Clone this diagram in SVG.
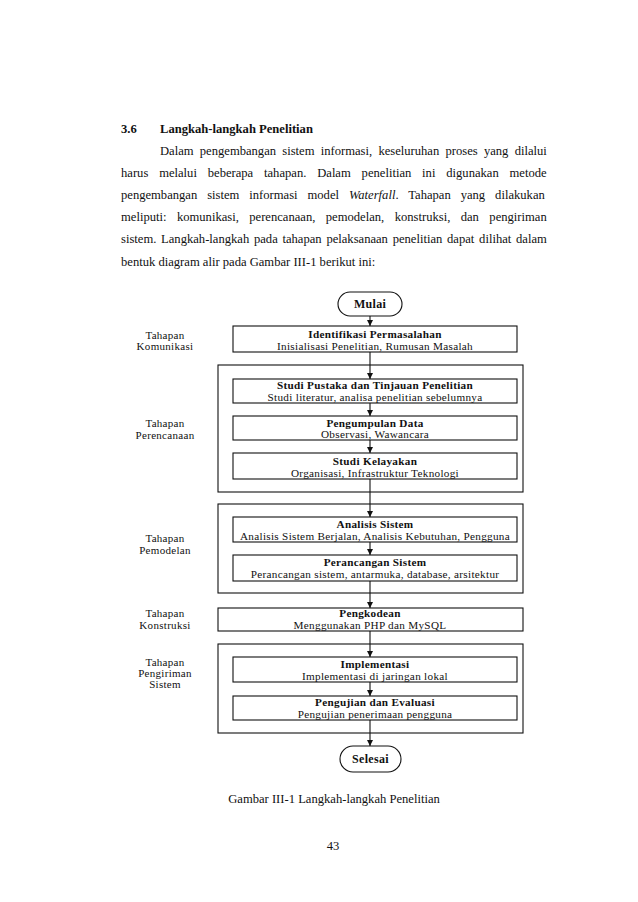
<svg xmlns="http://www.w3.org/2000/svg" width="638" height="902" viewBox="0 0 638 902">
<style>
.body{font-family:"Liberation Serif","Times New Roman",serif;font-size:12.6px;fill:#111}
.hd{font-family:"Liberation Serif","Times New Roman",serif;font-size:12.6px;font-weight:bold;fill:#111}
.box{fill:#fff;stroke:#111;stroke-width:1.1}
.grp{fill:none;stroke:#111;stroke-width:1.1}
.t{font-family:"Liberation Serif","Times New Roman",serif;font-size:11.2px;font-weight:bold;text-anchor:middle;letter-spacing:0.3px;fill:#111}
.s{font-family:"Liberation Serif","Times New Roman",serif;font-size:11.2px;text-anchor:middle;letter-spacing:0.3px;fill:#111}
.lab{font-family:"Liberation Serif","Times New Roman",serif;font-size:11px;text-anchor:middle;letter-spacing:0.3px;fill:#111}
.term{font-family:"Liberation Serif","Times New Roman",serif;font-size:12px;font-weight:bold;text-anchor:middle;letter-spacing:0.3px;fill:#111}
.con{stroke:#111;stroke-width:1.1;fill:none}
</style>
<defs>
<marker id="ah" viewBox="0 0 8 8" refX="8" refY="4" markerWidth="6" markerHeight="6" orient="auto" markerUnits="userSpaceOnUse"><path d="M0,0 L8,4 L0,8 z" fill="#111"/></marker>
</defs>
<rect width="638" height="902" fill="#fff"/>

<g id="page-text">
<text class="hd" x="121" y="133">3.6</text>
<text class="hd" x="160" y="133">Langkah-langkah Penelitian</text>
<text class="body" x="160" y="155" word-spacing="3.1">Dalam pengembangan sistem informasi, keseluruhan proses yang dilalui</text>
<text class="body" x="121" y="177" word-spacing="7.7">harus melalui beberapa tahapan. Dalam penelitian ini digunakan metode</text>
<text class="body" x="121" y="199" word-spacing="6.8">pengembangan sistem informasi model <tspan font-style="italic">Waterfall</tspan>. Tahapan yang dilakukan</text>
<text class="body" x="121" y="221" word-spacing="7.3">meliputi: komunikasi, perencanaan, pemodelan, konstruksi, dan pengiriman</text>
<text class="body" x="121" y="243" word-spacing="1.6">sistem. Langkah-langkah pada tahapan pelaksanaan penelitian dapat dilihat dalam</text>
<text class="body" x="121" y="266">bentuk diagram alir pada Gambar III-1 berikut ini:</text>
<text class="body" x="334" y="803" text-anchor="middle">Gambar III-1 Langkah-langkah Penelitian</text>
<text class="body" x="333" y="850" text-anchor="middle">43</text>
</g>

<g id="phase-labels">
<text class="lab" x="165" y="338.5">Tahapan</text>
<text class="lab" x="165" y="350">Komunikasi</text>
<text class="lab" x="165" y="427">Tahapan</text>
<text class="lab" x="165" y="438.5">Perencanaan</text>
<text class="lab" x="165" y="542">Tahapan</text>
<text class="lab" x="165" y="553.5">Pemodelan</text>
<text class="lab" x="165" y="617">Tahapan</text>
<text class="lab" x="165" y="628.5">Konstruksi</text>
<text class="lab" x="165" y="665.5">Tahapan</text>
<text class="lab" x="165" y="676.5">Pengiriman</text>
<text class="lab" x="165" y="687.5">Sistem</text>
</g>

<g id="groups">
<rect id="grp-perencanaan" class="grp" x="218" y="365" width="305" height="127"/>
<rect id="grp-pemodelan" class="grp" x="218" y="504" width="305" height="89"/>
<rect id="grp-pengiriman" class="grp" x="218" y="644" width="305" height="89"/>
</g>

<g id="connectors">
<line class="con" x1="370" y1="316" x2="370" y2="326" marker-end="url(#ah)"/>
<line class="con" x1="370" y1="352" x2="370" y2="379" marker-end="url(#ah)"/>
<line class="con" x1="370" y1="403" x2="370" y2="416" marker-end="url(#ah)"/>
<line class="con" x1="370" y1="440" x2="370" y2="453" marker-end="url(#ah)"/>
<line class="con" x1="370" y1="479" x2="370" y2="517" marker-end="url(#ah)"/>
<line class="con" x1="370" y1="542" x2="370" y2="555" marker-end="url(#ah)"/>
<line class="con" x1="370" y1="581" x2="370" y2="608" marker-end="url(#ah)"/>
<line class="con" x1="370" y1="631" x2="370" y2="657" marker-end="url(#ah)"/>
<line class="con" x1="370" y1="682" x2="370" y2="696" marker-end="url(#ah)"/>
<line class="con" x1="370" y1="720" x2="370" y2="746" marker-end="url(#ah)"/>
</g>

<g id="mulai">
<rect class="box" x="338" y="292" width="64" height="24" rx="12"/>
<text class="term" x="370" y="308">Mulai</text>
</g>
<g id="identifikasi">
<rect class="box" x="233" y="326" width="284" height="26"/>
<text class="t" x="375" y="337.5">Identifikasi Permasalahan</text>
<text class="s" x="375" y="349.5">Inisialisasi Penelitian, Rumusan Masalah</text>
</g>
<g id="studi-pustaka">
<rect class="box" x="233" y="379" width="284" height="24"/>
<text class="t" x="375" y="388.5">Studi Pustaka dan Tinjauan Penelitian</text>
<text class="s" x="375" y="400.5">Studi literatur, analisa penelitian sebelumnya</text>
</g>
<g id="pengumpulan">
<rect class="box" x="233" y="416" width="284" height="24"/>
<text class="t" x="375" y="426.5">Pengumpulan Data</text>
<text class="s" x="375" y="438">Observasi, Wawancara</text>
</g>
<g id="kelayakan">
<rect class="box" x="233" y="453" width="284" height="26"/>
<text class="t" x="375" y="464.5">Studi Kelayakan</text>
<text class="s" x="375" y="476.5">Organisasi, Infrastruktur Teknologi</text>
</g>
<g id="analisis">
<rect class="box" x="233" y="517" width="284" height="25"/>
<text class="t" x="375" y="528">Analisis Sistem</text>
<text class="s" x="375" y="539.5">Analisis Sistem Berjalan, Analisis Kebutuhan, Pengguna</text>
</g>
<g id="perancangan">
<rect class="box" x="233" y="555" width="284" height="26"/>
<text class="t" x="375" y="566">Perancangan Sistem</text>
<text class="s" x="375" y="578">Perancangan sistem, antarmuka, database, arsitektur</text>
</g>
<g id="pengkodean">
<rect class="box" x="218" y="608" width="305" height="23"/>
<text class="t" x="370" y="617">Pengkodean</text>
<text class="s" x="370" y="629">Menggunakan PHP dan MySQL</text>
</g>
<g id="implementasi">
<rect class="box" x="233" y="657" width="284" height="25"/>
<text class="t" x="375" y="668">Implementasi</text>
<text class="s" x="375" y="679.5">Implementasi di jaringan lokal</text>
</g>
<g id="pengujian">
<rect class="box" x="233" y="696" width="284" height="24"/>
<text class="t" x="375" y="706">Pengujian dan Evaluasi</text>
<text class="s" x="375" y="717.5">Pengujian penerimaan pengguna</text>
</g>
<g id="selesai">
<rect class="box" x="340" y="746" width="61" height="26" rx="13"/>
<text class="term" x="370.5" y="763">Selesai</text>
</g>
</svg>
